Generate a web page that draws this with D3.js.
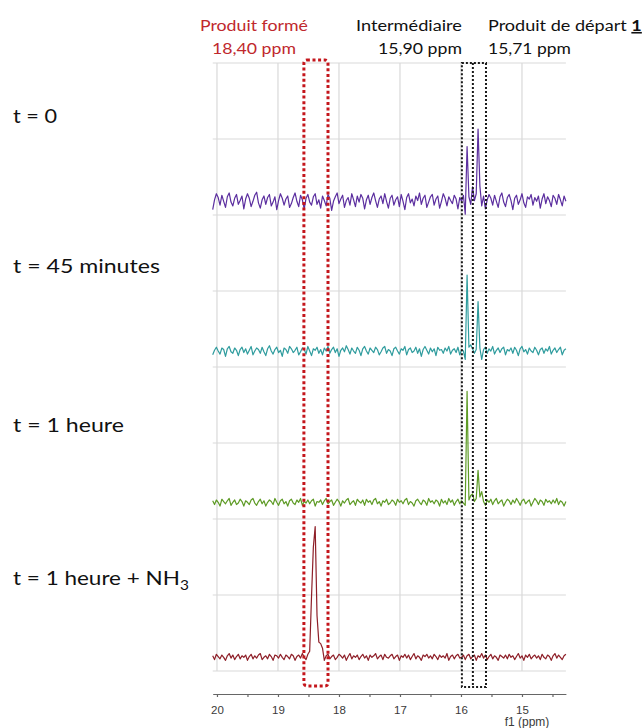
<!DOCTYPE html>
<html>
<head>
<meta charset="utf-8">
<script src="https://cdn.jsdelivr.net/npm/d3@7"></script>
<style>
  html, body { margin: 0; padding: 0; background: #fff; }
  svg { display: block; }
</style>
</head>
<body>
<svg id="chart" width="644" height="728"></svg>
<script>
// ---------- DATA ----------
// chemical shift grid (ppm), from 20.07 down to 14.28, step 0.03
const ppmStart = 20.07;
const ppmStep = 0.03;

const seriesNames = ["t = 0", "t = 45 minutes", "t = 1 heure", "t = 1 heure + NH3"];
const seriesColors = ["#5b2e9f", "#2f9c9e", "#5e9b26", "#8e1f28"];
// vertical stacking offset of each spectrum (intensity units)
const seriesOffsets = [616, 420, 221, 18];

const spectrumT0 = [
  -9, 4, 12, 7, -3, 10, 2, -6, 8, 13, 1, -4, 6, 11, -2, 3, 9, -8, 5, 12,
  6, -5, 2, 10, 14, 0, -7, 4, 9, -2, 7, 11, -4, 1, 8, -9, 3, 12, 6, -3,
  5, 9, -6, -1, 7, 13, 2, -5, 10, 4, -8, 6, 11, 1, -3, 8, 12, -2, 4, -7,
  9, 3, -4, 11, 6, -10, 2, 8, 13, -1, 5, 10, -6, 3, 7, -3, 12, 4, -5, 9,
  1, 11, 6, -8, 4, 10, -2, 7, 13, 3, -6, 5, 9, -1, 12, 2, -7, 6, 10, -3,
  4, 8, -5, 11, 2, -9, 7, 12, 0, 5, -4, 9, 3, 13, -2, 6, 10, -6, 1, 8,
  11, -3, 5, 9, -7, 2, 12, 6, -4, 8, 3, -1, 10, 5, -8, 7, 2, 10, -15, 74,
  8, -2, 21, 3, 12, 97, 22, -4, 9, -8, 4, 11, 6, -3, 10, 2, -6, 8, 13, 1,
  -5, 7, 11, 3, -9, 6, 10, -2, 4, 12, 0, -6, 8, 5, 11, -3, 7, 2, 9, -7,
  5, 12, -1, 8, 3, -5, 10, 6, -2, 11, 4, -4, 9, 2
];
const spectrumT45 = [
  -4, 2, 6, 1, -3, 5, 3, -6, 4, 7, 0, -2, 5, 2, -5, 3, 6, -1, 4, -3,
  2, 7, -4, 1, 5, 3, -2, 6, 0, -5, 4, 8, 1, -3, 3, 6, -1, 2, -6, 5,
  3, -2, 7, 4, -1, 2, 6, -4, 0, 5, 3, -3, 7, 1, -5, 4, 2, 6, -2, 3,
  -4, 5, 1, 7, -2, 3, 6, -1, 4, -6, 2, 5, 0, 8, 3, -3, 5, 1, -2, 6,
  2, -5, 4, 7, 1, -3, 5, 2, -1, 6, 3, -4, 0, 5, 7, -2, 3, 1, -5, 4,
  6, 1, -3, 4, 2, 7, -4, 3, 5, -1, 1, 6, -2, 4, -6, 3, 7, 2, -3, 5,
  0, 4, -5, 6, 2, 3, -2, 5, 1, 7, -3, 2, 4, -1, 6, -4, 3, 1, -10, 101,
  6, 9, 4, -2, 3, 66, 5, -10, 3, 6, -2, 4, 1, 7, -3, 2, 5, -1, 4, 6,
  -4, 3, 1, 5, -2, 6, 2, -5, 4, 7, 0, 3, -3, 5, 1, -1, 6, 2, -4, 3,
  5, -2, 4, 1, 7, -3, 2, 5, -1, 3, 6, -4, 2, 4
];
const spectrumT1h = [
  3, -2, 4, 1, -4, 5, 2, -1, 3, 6, -3, 1, 4, -2, 0, 5, 2, -4, 3, 1,
  -2, 4, 6, 0, -3, 2, 5, -1, 3, -4, 1, 4, 2, -2, 6, 1, -3, 3, 5, -1,
  2, -4, 3, 5, 0, -2, 4, 1, 6, -3, 2, 0, 4, -1, 3, 5, -4, 2, 1, 4,
  -2, 3, 6, -1, 2, 4, -3, 1, 5, 2, -4, 3, 0, 4, 6, -2, 1, 3, -3, 5,
  2, 0, 4, -3, 5, 1, 3, -2, 4, 6, -1, 2, -4, 3, 1, 5, -2, 0, 4, 2,
  -3, 5, 1, 3, -1, 4, 6, -2, 2, 0, -4, 3, 5, 1, -2, 4, 2, -3, 6, 1,
  3, -1, 4, 2, -4, 5, 0, 3, -2, 6, 1, 4, -3, 2, 5, -1, 3, 0, -3, 147,
  4, 10, 12, 2, 6, 43, 8, 15, 2, -3, 4, 1, 5, -2, 3, 6, -1, 2, 4, -4,
  1, 5, 3, -2, 4, 0, 6, 2, -3, 3, 5, -1, 2, 4, -4, 1, 6, 3, -2, 4,
  2, -3, 5, 1, 3, -1, 4, 0, 6, -2, 3, 1, -4, 2
];
const spectrumNH3 = [
  2, -3, 4, 1, -2, 3, 0, -4, 2, 5, -1, 3, -3, 1, 4, -2, 2, 0, 3, -4,
  1, 4, -2, 2, -1, 3, 5, -3, 0, 2, -2, 4, 1, -4, 3, 2, -1, 4, 0, -3,
  3, 1, -2, 4, 2, -4, 1, 3, -1, 5, 0, -3, 4, 8, 80, 145, 172, 55, 20, 18,
  12, -4, 2, 4, -2, 1, 3, -3, 0, 4, 2, -1, 3, -4, 1, 5, -2, 2, 0, 3,
  -3, 1, 4, -1, 2, -4, 3, 0, 2, 5, -2, 1, 3, -3, 4, 0, -1, 2, 4, -2,
  1, 3, -4, 2, 0, 4, -1, 3, -3, 1, 5, -2, 2, 0, -4, 3, 1, 4, -1, 2,
  -2, 4, 1, -3, 3, 0, 2, -1, 5, -4, 1, 3, -2, 2, 4, -1, 0, 3, -3, 2,
  4, -2, 1, 3, -4, 2, 0, 5, -1, 3, -3, 1, 4, -2, 2, 0, -4, 3, 1, -1,
  3, -2, 4, 0, 2, -3, 1, 5, -1, 2, -4, 3, 0, 4, -2, 1, 3, -1, 2, -3,
  4, 0, -2, 3, 1, -4, 2, 5, -1, 3, 0, -3, 2, 4
];
const spectra = [spectrumT0, spectrumT45, spectrumT1h, spectrumNH3];

const tickLabels = [20, 19, 18, 17, 16, 15];
const minorTicks = [19.5, 18.5, 17.5, 16.5, 15.5, 14.5];

// highlighted ppm windows (dotted boxes)
const boxProduct = [18.575, 18.18];
const boxSignals = [15.985, 15.59];
const boxDivider = 15.805;

const headerTitles = ["Produit formé", "Intermédiaire", "Produit de départ "];
const headerBold = "1";
const headerShifts = ["18,40 ppm", "15,90 ppm", "15,71 ppm"];

// ---------- CHART ----------
const svg = d3.select("#chart");
const FONT = "Lato, 'Open Sans', sans-serif";

const x = d3.scaleLinear().domain([20.07, 14.28]).range([212.7, 565.9]);
const y = d3.scaleLinear().domain([0, 800]).range([671, 63]);

const ppm = d3.range(spectrumT0.length).map(i => +(ppmStart - i * ppmStep).toFixed(2));

// grid
const grid = svg.append("g");
grid.selectAll("line.h").data(d3.range(0, 801, 100)).join("line")
  .attr("x1", x(20.07)).attr("x2", x(14.28))
  .attr("y1", d => y(d)).attr("y2", d => y(d))
  .attr("stroke", "#d9d9d9").attr("stroke-width", 1.2);
grid.selectAll("line.v").data(tickLabels).join("line")
  .attr("x1", d => x(d)).attr("x2", d => x(d))
  .attr("y1", y(800)).attr("y2", y(0))
  .attr("stroke", "#d9d9d9").attr("stroke-width", 1.2);

// spectra
spectra.forEach((s, k) => {
  const line = d3.line().x((d, i) => x(ppm[i])).y(d => y(d + seriesOffsets[k]));
  svg.append("path")
    .attr("d", line(s))
    .attr("fill", "none")
    .attr("stroke", seriesColors[k])
    .attr("stroke-width", 1.2)
    .attr("stroke-linejoin", "round");
});

// dotted boxes
svg.append("rect")
  .attr("x", x(boxProduct[0])).attr("width", x(boxProduct[1]) - x(boxProduct[0]))
  .attr("y", 60).attr("height", 626)
  .attr("rx", 3)
  .attr("fill", "none").attr("stroke", "#c4161c").attr("stroke-width", 3)
  .attr("stroke-dasharray", "3 2.6");
svg.append("rect")
  .attr("x", x(boxSignals[0])).attr("width", x(boxSignals[1]) - x(boxSignals[0]))
  .attr("y", 63).attr("height", 624)
  .attr("fill", "none").attr("stroke", "#1a1a1a").attr("stroke-width", 2)
  .attr("stroke-dasharray", "2 2");
svg.append("line")
  .attr("x1", x(boxDivider)).attr("x2", x(boxDivider))
  .attr("y1", 63).attr("y2", 687)
  .attr("stroke", "#1a1a1a").attr("stroke-width", 2)
  .attr("stroke-dasharray", "2 2");

// x axis
const axisG = svg.append("g").attr("transform", "translate(0,694)")
  .call(d3.axisBottom(x).tickValues(tickLabels.concat(minorTicks))
    .tickFormat(d => tickLabels.includes(d) ? d : "")
    .tickSize(3).tickSizeOuter(0).tickPadding(9));
axisG.select(".domain").attr("stroke", "#666").attr("stroke-width", 1.2);
axisG.selectAll(".tick line").attr("stroke", "#666").attr("stroke-width", 1.2);
axisG.selectAll(".tick text").attr("fill", "#3a3a3a")
  .style("font-family", "'Liberation Sans', Arial, sans-serif").style("font-size", "11.5px");
svg.append("text").attr("x", 527).attr("y", 726).attr("text-anchor", "middle")
  .attr("fill", "#3a3a3a")
  .style("font-family", "'Liberation Sans', Arial, sans-serif").style("font-size", "12px")
  .text("f1 (ppm)");

// helper: fit a text element horizontally to a target width
function fit(t, x0, y0, width, anchorEnd) {
  const w = t.node().getBBox().width;
  const s = width / w;
  const tx = anchorEnd ? x0 - width : x0;
  t.attr("x", 0).attr("y", 0).attr("text-anchor", "start")
    .attr("transform", `translate(${tx},${y0}) scale(${s},1)`);
}

// left labels
const leftY = [123, 273, 432, 585];
const leftW = [44, 147, 111, 176];
seriesNames.forEach((n, k) => {
  const t = svg.append("text").attr("fill", "#111")
    .style("font-family", FONT).style("font-size", "19px");
  if (n.endsWith("NH3")) {
    t.append("tspan").text(n.slice(0, -1));
    t.append("tspan").attr("dy", 5).style("font-size", "13px").text("3");
  } else {
    t.text(n);
  }
  fit(t, 13, leftY[k], leftW[k], false);
});

// header labels
const hdr = svg.append("g").style("font-family", FONT).style("font-size", "16px");
const ht0 = hdr.append("text").attr("fill", "#c0282d").text(headerTitles[0]);
fit(ht0, 200, 31, 108, false);
const hs0 = hdr.append("text").attr("fill", "#c0282d").text(headerShifts[0]);
fit(hs0, 212, 54, 84, false);
const ht1 = hdr.append("text").attr("fill", "#111").text(headerTitles[1]);
fit(ht1, 462, 31, 106, true);
const hs1 = hdr.append("text").attr("fill", "#111").text(headerShifts[1]);
fit(hs1, 462, 54, 84, true);
const ht2 = hdr.append("text").attr("fill", "#111");
ht2.append("tspan").text(headerTitles[2]);
ht2.append("tspan").style("font-weight", "bold").style("text-decoration", "underline").text(headerBold);
fit(ht2, 488, 31, 154, false);
const hs2 = hdr.append("text").attr("fill", "#111").text(headerShifts[2]);
fit(hs2, 488, 54, 83, false);
</script>
</body>
</html>
